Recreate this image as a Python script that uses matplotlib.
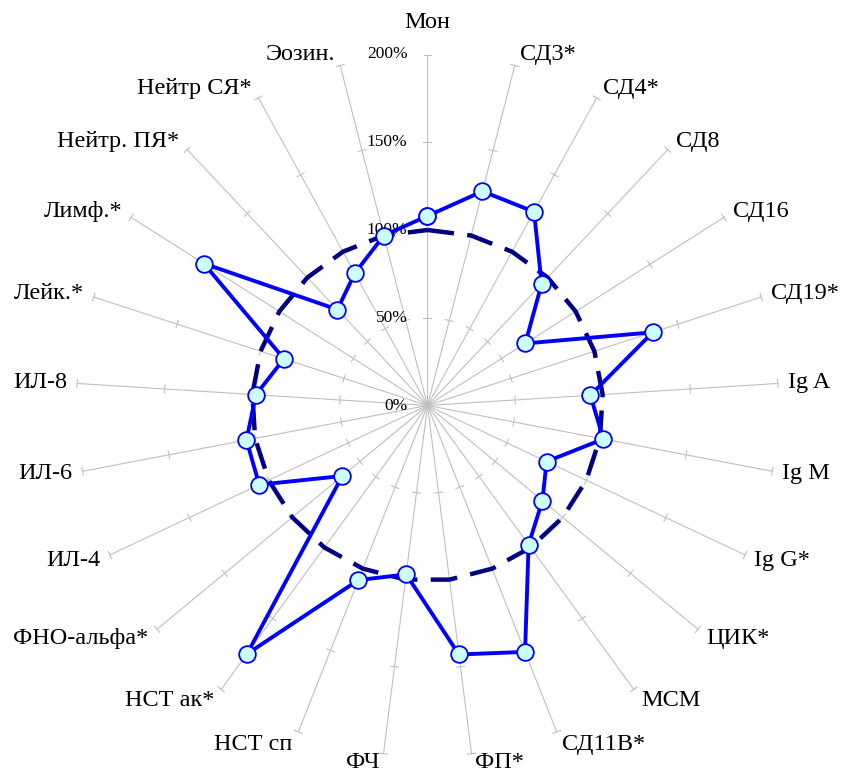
import numpy as np
import matplotlib
matplotlib.use("Agg")
import matplotlib.pyplot as plt

categories = ["Мон", "СД3*", "СД4*", "СД8", "СД16", "СД19*", "Ig A", "Ig M", "Ig G*",
              "ЦИК*", "МСМ", "СД11В*", "ФП*", "ФЧ", "НСТ сп", "НСТ ак*", "ФНО-альфа*",
              "ИЛ-4", "ИЛ-6", "ИЛ-8", "Лейк.*", "Лимф.*", "Нейтр. ПЯ*", "Нейтр СЯ*", "Эозин."]
patient = [108, 126, 126, 95, 66, 135, 93, 102, 75, 85, 98, 151, 143, 97, 107, 175, 63,
           106, 105, 98, 86, 151, 75, 86, 100]
norm = [100, 100, 100, 100, 100, 100, 100, 100, 100, 100, 100, 100, 100, 100, 100, 100,
        100, 100, 100, 100, 100, 100, 100, 100, 100]
tick_values = [0, 50, 100, 150, 200]
tick_labels = ["0%", "50%", "100%", "150%", "200%"]

plt.rcParams['font.family'] = ['Liberation Serif', 'DejaVu Serif']

W, H = 845, 774
fig = plt.figure(figsize=(W / 100, H / 100), dpi=100)
cx, cy, R = 427.5, 405.5, 351
ax = fig.add_axes([(cx - R) / W, (H - cy - R) / H, 2 * R / W, 2 * R / H], projection='polar')
ax.set_theta_zero_location('N')
ax.set_theta_direction(-1)
ax.set_ylim(0, 200)
ax.set_xticks([])
ax.set_yticks([])
ax.grid(False)
ax.spines['polar'].set_visible(False)
ax.patch.set_alpha(0)

n = len(categories)
theta = np.arange(n) * 2 * np.pi / n
spoke_col = '#BFBFBF'
px_per_unit = R / 200.0
h = 4.0 / px_per_unit  # half tick length in data units

for t in theta:
    ax.plot([t, t], [0, 200], color=spoke_col, lw=0.8, zorder=1, clip_on=False)
    for r in tick_values[1:]:
        a = np.arctan(h / r)
        rr = np.hypot(r, h)
        ax.plot([t - a, t + a], [rr, rr], color=spoke_col, lw=0.8, zorder=1, clip_on=False)

# tick labels on vertical axis
for v, lab in zip(tick_values, tick_labels):
    ax.annotate(lab, xy=(0, v), xytext=(-20, 0), textcoords='offset pixels',
                ha='right', va='center', fontsize=12.5, color='black', zorder=2,
                annotation_clip=False)

# category labels
for t, cat in zip(theta, categories):
    s, c = np.sin(t), np.cos(t)
    if s > 0.05:
        ha = 'left'
    elif s < -0.05:
        ha = 'right'
    else:
        ha = 'center'
    dx = np.sign(s) * (3 + 7 * abs(s)) if abs(s) > 0.05 else 0
    dy = 11 * c if c > 0 else 14 * c
    va = 'center'
    if abs(s) < 0.05 and c > 0:
        dy = 32
    if c < -0.95:
        va = 'bottom'
        dy = -19
    ax.annotate(cat, xy=(t, 200), xytext=(dx, dy), textcoords='offset pixels',
                ha=ha, va=va, fontsize=17.5, color='black', annotation_clip=False)

th_c = np.append(theta, theta[0])
norm_c = np.append(norm, norm[0])
pat_c = np.append(patient, patient[0])

ax.plot(th_c, norm_c, color='#000080', lw=3.2, dashes=(6, 3), zorder=3, clip_on=False)
ax.plot(th_c, pat_c, color='#0000FF', lw=2.8, zorder=4, clip_on=False,
        marker='o', markersize=12, markerfacecolor='#CCFFFF', markeredgecolor='#0000FF',
        markeredgewidth=1.3)

fig.savefig('out.png', dpi=100)
